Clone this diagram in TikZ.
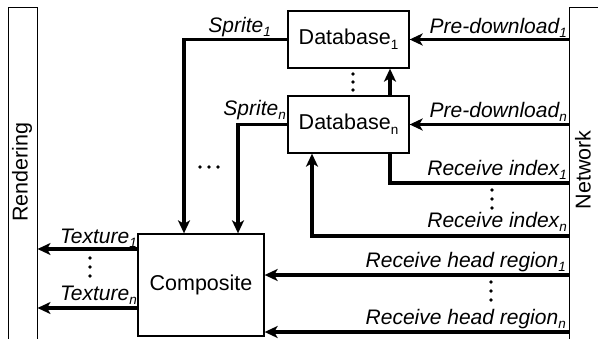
\documentclass[tikz,border=0pt]{standalone}
\usepackage{fontspec}
\setmainfont{Liberation Sans}
\usetikzlibrary{arrows.meta,calc}

% lowered, reduced-size index after a label word
\newcommand{\idx}[1]{\raisebox{-0.22em}{\fontsize{13.5}{14}\selectfont #1}}

\tikzset{
  every node/.style={font=\fontsize{21.5}{25}\selectfont},
  bar/.style={draw, line width=1pt, inner sep=0pt},
  box/.style={draw, line width=1.3pt, inner sep=0pt, fill=white},
  conn/.style={line width=3.3pt, -{Stealth[length=13pt,width=12pt,inset=3.5pt]}},
  wire/.style={line width=3.3pt},
  lbl/.style={font=\fontsize{21}{25}\selectfont\itshape, inner sep=0pt, anchor=base east},
  dot/.style={circle, fill=black, inner sep=0pt, minimum size=3.8pt},
}

\begin{document}
\begin{tikzpicture}[x=1pt, y=-1pt]
  \useasboundingbox (0,0) rectangle (598,338);
  \clip (0,0) rectangle (598,338);

  % side bars
  \node[bar, minimum width=29pt, minimum height=338pt] (rend) at (22.5,176) {};
  \node[rotate=90] (rendtxt) at (22,172) {Rendering};
  \node[bar, minimum width=32pt, minimum height=338pt] (net) at (585,176) {};
  \node[rotate=90] (nettxt) at (583,170) {Network};

  % blocks
  \node[box, minimum width=121pt, minimum height=57pt] (db1) at (348.5,39.5) {Database\idx{1}};
  \node[box, minimum width=121pt, minimum height=57pt] (dbn) at (348.5,124.5) {Database\idx{n}};
  \node[box, minimum width=126pt, minimum height=102pt] (comp) at (201,285) {Composite};

  % end points on the network bar
  \coordinate (ri1) at (net.west |- 0,183);
  \coordinate (rin) at (net.west |- 0,236);
  \coordinate (rh1) at (net.west |- 0,275);
  \coordinate (rhn) at (net.west |- 0,332);

  % network to databases
  \draw[conn] (net.west |- db1.east) -- (db1.east);
  \draw[conn] (net.west |- dbn.east) -- (dbn.east);
  \draw[wire] (ri1) -| ([xshift=41.5pt]dbn.south);
  \draw[conn] ([xshift=41.5pt]dbn.north) -- ([xshift=41.5pt]db1.south);
  \draw[conn] (rin) -| ([xshift=-36.5pt]dbn.south);

  % databases to composite
  \draw[conn] (db1.west) -| ([xshift=-17pt]comp.north);
  \draw[conn] (dbn.west) -| ([xshift=37pt]comp.north);

  % network to composite
  \draw[conn] (rh1) -- (comp.east |- rh1);
  \draw[conn] (rhn) -- (comp.east |- rhn);

  % composite to rendering
  \draw[conn] (comp.west |- 0,249) -- (rend.east |- 0,249);
  \draw[conn] (comp.west |- 0,308) -- (rend.east |- 0,308);

  % labels
  \node[lbl] (ls1) at (271,32) {Sprite\idx{1}};
  \node[lbl] (lsn) at (286,115) {Sprite\idx{n}};
  \node[lbl] (lp1) at (567,33) {Pre-download\idx{1}};
  \node[lbl] (lpn) at (567,117) {Pre-download\idx{n}};
  \node[lbl] (li1) at (567,175) {Receive index\idx{1}};
  \node[lbl] (lin) at (567,227) {Receive index\idx{n}};
  \node[lbl] (lh1) at (566,267) {Receive head region\idx{1}};
  \node[lbl] (lhn) at (566,324) {Receive head region\idx{n}};
  \node[lbl] (lt1) at (137,243) {Texture\idx{1}};
  \node[lbl] (ltn) at (137,300) {Texture\idx{n}};

  % ellipsis dots
  \foreach \y [count=\i] in {74,82,90} \node[dot] (da\i) at (353,\y) {};
  \foreach \y [count=\i] in {258,267,276} \node[dot] (dt\i) at (90,\y) {};
  \foreach \y [count=\i] in {190,199,208} \node[dot] (di\i) at (492,\y) {};
  \foreach \y [count=\i] in {282,291,300} \node[dot] (dh\i) at (491,\y) {};
  \foreach \x [count=\i] in {200,209,218} \node[dot] (ds\i) at (\x,167) {};
\end{tikzpicture}
\end{document}
